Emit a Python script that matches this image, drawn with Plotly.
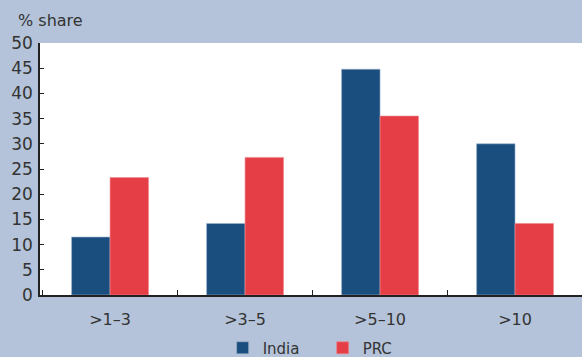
import plotly.graph_objects as go

# Share of firms by size band (years), India vs PRC
categories = [">1\u20133", ">3\u20135", ">5\u201310", ">10"]
india = [11.5, 14.2, 44.8, 30.0]
prc = [23.3, 27.3, 35.5, 14.2]

BG = "#b4c3d9"
TXT = "#333333"

fig = go.Figure()
fig.add_trace(go.Bar(x=categories, y=india, name="India",
                     marker=dict(color="#1a4e7e", line=dict(color="#9fb3cc", width=0.6))))
fig.add_trace(go.Bar(x=categories, y=prc, name="PRC",
                     marker=dict(color="#e63e46", line=dict(color="#f08a8f", width=0.6))))

fig.update_layout(
    width=582, height=357,
    paper_bgcolor=BG, plot_bgcolor="white",
    margin=dict(l=40, r=0, t=43, b=62, autoexpand=False),
    barmode="group", bargap=0.43, bargroupgap=0,
    font=dict(family="DejaVu Sans", color=TXT, size=15),
    showlegend=True,
    legend=dict(orientation="h", x=0.337, xanchor="left", y=-0.145, yanchor="top",
                font=dict(size=15, color=TXT), bgcolor="rgba(0,0,0,0)",
                itemwidth=30, entrywidth=55, traceorder="normal"),
    annotations=[dict(text="% share", xref="paper", yref="paper", x=-0.045, y=1.0,
                      xanchor="left", yanchor="bottom", yshift=11, showarrow=False,
                      font=dict(size=16, color=TXT))],
)
fig.update_yaxes(range=[0, 50], dtick=5, ticks="inside", ticklen=4, tickcolor="#222",
                 showline=True, linecolor="#222", linewidth=1.5, showgrid=False,
                 zeroline=False, tickfont=dict(size=17, color=TXT), ticklabelstandoff=2)
fig.update_xaxes(range=[-0.519, 3.496], ticks="inside", tickson="boundaries", ticklen=5,
                 tickcolor="#222", showline=True, linecolor="#222", linewidth=1.5,
                 showgrid=False, tickfont=dict(size=16, color=TXT), ticklabelstandoff=9)

fig.write_html("out.html")
